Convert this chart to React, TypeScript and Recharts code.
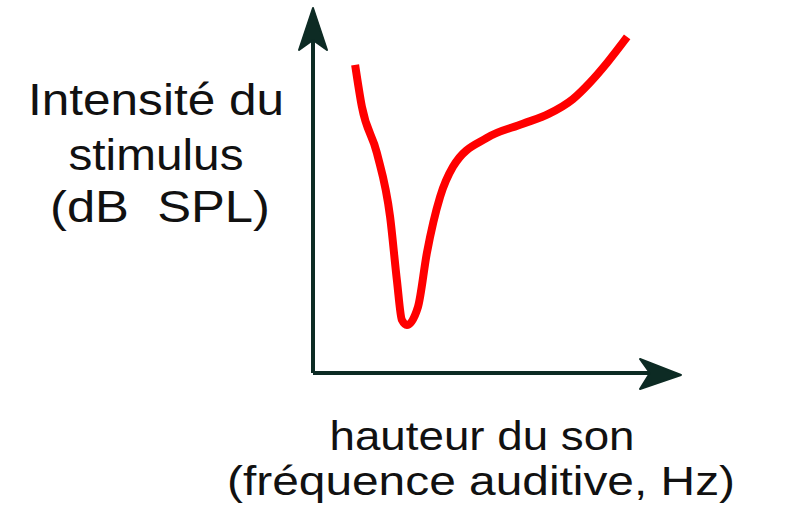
import React from 'react';
import { LineChart, Line, XAxis, YAxis, ReferenceDot, ReferenceLine } from 'recharts';

// frequency position (0-100) and intensity (0-100)
const freq = [11.8, 13.7, 17.9, 21.6, 23.5, 24.9, 26.3, 29.4, 31.9, 35.6, 39.2, 48.7, 58.8, 66.0, 72.8, 77.6, 82.4, 88.0];
const intensity = [87.3, 75.4, 62.3, 44.2, 26.3, 15.0, 13.6, 18.7, 34.0, 49.9, 58.4, 66.6, 70.6, 73.4, 77.6, 82.3, 87.9, 95.2];

const yLabel = ['Intensité du', 'stimulus', '(dB  SPL)'];
const xLabel = ['hauteur du son', '(fréquence auditive, Hz)'];

const data = freq.map((f, i) => ({ f, v: intensity[i] }));

const AXIS = '#0d2b24';
const FONT = '"Liberation Sans", Arial, sans-serif';

const UpArrow = ({ cx, cy }: any) => (
  <polygon
    points={`${cx},${cy - 12} ${cx + 14},${cy + 30} ${cx},${cy + 20} ${cx - 14},${cy + 30}`}
    fill={AXIS}
    stroke={AXIS}
    strokeWidth={2}
    strokeLinejoin="round"
  />
);

const RightArrow = ({ cx, cy }: any) => (
  <polygon
    points={`${cx + 11},${cy + 2} ${cx - 30},${cy + 16} ${cx - 20},${cy} ${cx - 30},${cy - 14}`}
    fill={AXIS}
    stroke={AXIS}
    strokeWidth={2}
    strokeLinejoin="round"
  />
);

export default function App() {
  return (
    <div style={{ position: 'absolute', left: 0, top: 0, width: 785, height: 518, background: '#fff' }}>
      <LineChart
        width={785}
        height={518}
        data={data}
        margin={{ top: 20, left: 313, right: 115, bottom: 145 }}
      >
        <XAxis type="number" dataKey="f" domain={[0, 100]} hide />
        <YAxis type="number" domain={[0, 100]} hide />
        <ReferenceLine x={0} stroke={AXIS} strokeWidth={4} ifOverflow="visible" />
        <ReferenceLine y={0} stroke={AXIS} strokeWidth={4} ifOverflow="visible" />
        <ReferenceDot x={0} y={100} r={0} ifOverflow="visible" shape={UpArrow} />
        <ReferenceDot x={100} y={0} r={0} ifOverflow="visible" shape={RightArrow} />
        <Line
          type="monotone"
          dataKey="v"
          stroke="#ff0000"
          strokeWidth={8}
          dot={false}
          activeDot={false}
          isAnimationActive={false}
        />
        <g fontFamily={FONT} fill="#111" textAnchor="middle">
          <text x={156} y={115} fontSize={44} textLength={256} lengthAdjust="spacingAndGlyphs">{yLabel[0]}</text>
          <text x={156} y={170} fontSize={44} textLength={175} lengthAdjust="spacingAndGlyphs">{yLabel[1]}</text>
          <text x={160} y={222} fontSize={44} textLength={220} lengthAdjust="spacingAndGlyphs" style={{ whiteSpace: 'pre' }}>{yLabel[2]}</text>
          <text x={482} y={450} fontSize={40} textLength={305} lengthAdjust="spacingAndGlyphs">{xLabel[0]}</text>
          <text x={481} y={495} fontSize={40} textLength={508} lengthAdjust="spacingAndGlyphs">{xLabel[1]}</text>
        </g>
      </LineChart>
    </div>
  );
}
